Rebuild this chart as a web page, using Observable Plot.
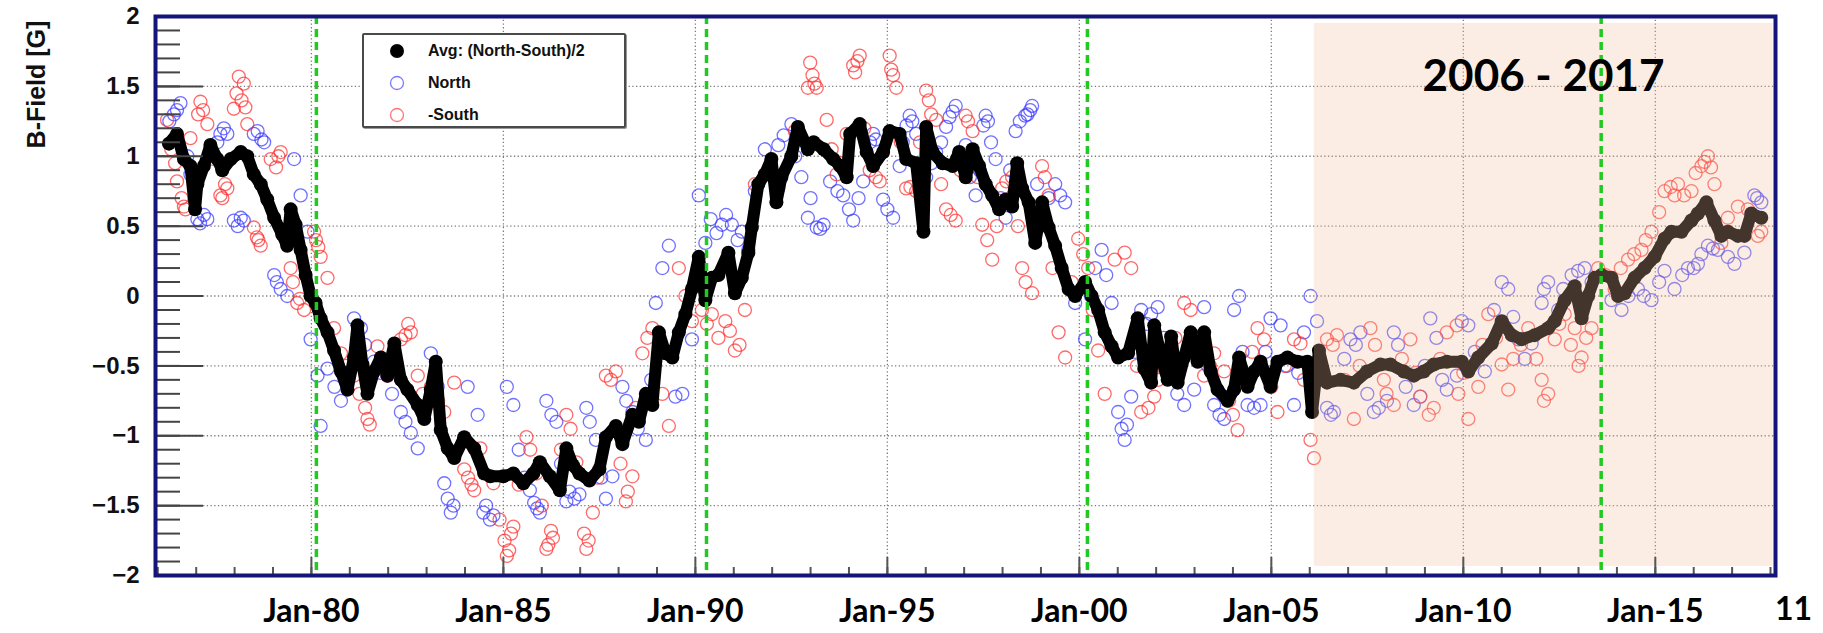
<!DOCTYPE html>
<html>
<head>
<meta charset="utf-8">
<script src="https://cdn.jsdelivr.net/npm/d3@7"></script>
<script src="https://cdn.jsdelivr.net/npm/@observablehq/plot@0.6"></script>
<style>
  html, body { margin: 0; padding: 0; background: #fff; }
  #wrap { position: relative; width: 1823px; height: 633px; overflow: hidden; }
  #legend { position: absolute; left: 362px; top: 33px; width: 260px; height: 91px;
    border: 2px solid #4a4a4a; border-radius: 2px; background: #fff;
    box-shadow: 1px 1px 0 #999; font: bold 16px "Liberation Sans", Arial, sans-serif; color: #111; }
  #legend .row { position: absolute; left: 0; height: 20px; width: 100%; }
  #legend .row span { position: absolute; left: 64px; top: 1px; }
  #legend .row svg { position: absolute; left: 24px; top: 1px; }
</style>
</head>
<body>
<div id="wrap">
  <div id="chart"></div>
  <div id="legend"></div>
</div>
<script>
// ---------------- data (decimal year, field in Gauss) ----------------
const avgSeries = [
  [1976.29,1.09],[1976.50,1.16],[1976.68,0.98],[1976.85,0.93],[1976.97,0.62],[1977.03,0.80],[1977.20,0.93],
  [1977.37,1.08],[1977.55,0.98],[1977.68,0.90],[1977.90,0.98],[1978.16,1.03],[1978.33,1.00],[1978.50,0.87],
  [1978.68,0.80],[1978.85,0.69],[1979.03,0.56],[1979.24,0.44],[1979.37,0.36],[1979.46,0.62],[1979.59,0.51],
  [1979.72,0.33],[1979.85,0.15],[1979.98,0.00],[1980.11,-0.05],[1980.24,-0.16],[1980.42,-0.26],[1980.59,-0.39],
  [1980.77,-0.54],[1980.94,-0.67],[1981.11,-0.44],[1981.20,-0.21],[1981.33,-0.49],[1981.46,-0.70],[1981.63,-0.54],
  [1981.81,-0.44],[1981.98,-0.57],[1982.16,-0.34],[1982.33,-0.60],[1982.50,-0.67],[1982.77,-0.78],[1982.94,-0.88],
  [1983.11,-0.67],[1983.24,-0.47],[1983.37,-0.96],[1983.55,-1.09],[1983.72,-1.16],[1983.98,-1.01],[1984.24,-1.09],
  [1984.50,-1.27],[1984.66,-1.29],[1985.00,-1.29],[1985.26,-1.27],[1985.52,-1.34],[1985.78,-1.27],[1985.95,-1.19],
  [1986.21,-1.29],[1986.47,-1.39],[1986.64,-1.09],[1986.81,-1.21],[1986.98,-1.27],[1987.24,-1.32],[1987.50,-1.24],
  [1987.67,-1.01],[1987.93,-0.93],[1988.10,-1.06],[1988.36,-0.85],[1988.53,-0.90],[1988.71,-0.70],[1988.88,-0.78],
  [1989.05,-0.26],[1989.22,-0.41],[1989.40,-0.44],[1989.57,-0.26],[1989.74,-0.13],[1989.91,0.05],[1990.09,0.28],
  [1990.26,-0.03],[1990.43,0.13],[1990.60,0.15],[1990.86,0.31],[1991.03,0.02],[1991.21,0.13],[1991.38,0.31],
  [1991.47,0.49],[1991.64,0.80],[1991.81,0.87],[1991.98,0.98],[1992.11,0.67],[1992.24,0.85],[1992.50,1.00],
  [1992.67,1.21],[1992.93,1.05],[1993.08,1.10],[1993.34,1.05],[1993.59,0.98],[1993.77,0.93],[1993.94,0.85],
  [1994.03,1.16],[1994.28,1.23],[1994.46,1.03],[1994.63,0.93],[1994.89,1.03],[1995.06,1.18],[1995.32,1.16],
  [1995.49,0.98],[1995.75,0.95],[1995.94,0.46],[1996.01,1.21],[1996.18,1.03],[1996.44,0.95],[1996.70,0.93],
  [1996.87,1.03],[1997.04,0.85],[1997.22,1.05],[1997.39,0.93],[1997.56,0.80],[1997.73,0.72],[1997.91,0.62],
  [1998.08,0.69],[1998.25,0.64],[1998.38,0.95],[1998.51,0.77],[1998.68,0.67],[1998.85,0.38],[1999.03,0.67],
  [1999.20,0.49],[1999.37,0.36],[1999.54,0.20],[1999.72,0.05],[1999.89,0.00],[2000.15,0.10],[2000.32,0.00],
  [2000.49,-0.10],[2000.66,-0.26],[2000.84,-0.36],[2001.01,-0.44],[2001.27,-0.41],[2001.52,-0.16],[2001.69,-0.52],
  [2001.87,-0.62],[2001.95,-0.21],[2002.13,-0.44],[2002.30,-0.60],[2002.39,-0.29],[2002.56,-0.62],[2002.73,-0.44],
  [2002.90,-0.26],[2003.08,-0.47],[2003.25,-0.26],[2003.42,-0.54],[2003.60,-0.67],[2003.86,-0.75],[2004.03,-0.67],
  [2004.16,-0.44],[2004.38,-0.65],[2004.55,-0.54],[2004.72,-0.47],[2004.98,-0.65],[2005.16,-0.47],[2005.42,-0.44],
  [2005.68,-0.47],[2005.94,-0.47],[2006.06,-0.83],[2006.24,-0.39],[2006.45,-0.62],[2006.80,-0.60],[2007.15,-0.62],
  [2007.49,-0.54],[2007.84,-0.49],[2008.10,-0.49],[2008.45,-0.54],[2008.71,-0.57],[2008.97,-0.54],[2009.23,-0.49],
  [2009.57,-0.47],[2009.96,-0.47],[2010.13,-0.54],[2010.39,-0.44],[2010.74,-0.34],[2011.00,-0.18],[2011.26,-0.28],
  [2011.52,-0.31],[2011.86,-0.28],[2012.21,-0.23],[2012.38,-0.18],[2012.64,-0.03],[2012.90,0.07],[2013.08,-0.16],
  [2013.25,0.00],[2013.42,0.13],[2013.60,0.15],[2013.86,0.13],[2014.03,0.00],[2014.20,0.02],[2014.46,0.13],
  [2014.72,0.20],[2014.98,0.28],[2015.24,0.41],[2015.42,0.46],[2015.68,0.46],[2015.94,0.54],[2016.11,0.59],
  [2016.33,0.67],[2016.54,0.54],[2016.72,0.43],[2016.89,0.46],[2017.15,0.43],[2017.32,0.43],[2017.50,0.59],
  [2017.76,0.56]
];
const northSeries = [
  [1976.30,1.25],[1976.42,1.30],[1976.50,1.33],[1976.59,1.38],[1976.77,1.00],[1976.85,0.87],[1977.03,0.55],
  [1977.10,0.52],[1977.20,0.58],[1977.29,0.55],[1977.55,1.10],[1977.63,1.16],[1977.72,1.20],[1977.81,1.16],
  [1977.98,0.54],[1978.08,0.50],[1978.16,0.56],[1978.24,0.54],[1978.50,1.16],[1978.60,1.18],[1978.70,1.12],
  [1978.77,1.10],[1979.03,0.15],[1979.10,0.10],[1979.20,0.05],[1979.37,0.00],[1979.55,0.98],[1979.72,0.72],
  [1979.90,0.46],[1979.98,-0.31],[1980.16,-0.57],[1980.24,-0.93],[1980.42,-0.52],[1980.60,-0.65],[1980.77,-0.75],
  [1980.90,-0.55],[1981.11,-0.16],[1981.29,-0.23],[1981.40,-0.35],[1981.63,-0.47],[1981.80,-0.55],[1981.98,-0.57],
  [1982.10,-0.70],[1982.33,-0.83],[1982.45,-0.90],[1982.59,-0.98],[1982.77,-1.09],[1983.11,-0.41],[1983.29,-0.65],
  [1983.46,-1.34],[1983.55,-1.45],[1983.63,-1.55],[1983.70,-1.50],[1984.07,-0.65],[1984.33,-0.85],[1984.48,-1.55],
  [1984.55,-1.50],[1984.65,-1.60],[1984.74,-1.57],[1985.09,-0.65],[1985.26,-0.78],[1985.40,-1.10],[1985.55,-1.30],
  [1985.69,-1.39],[1985.80,-1.48],[1985.88,-1.52],[1985.95,-1.55],[1986.12,-0.75],[1986.25,-0.85],[1986.38,-0.90],
  [1986.50,-1.20],[1986.64,-1.47],[1986.72,-1.40],[1986.85,-1.45],[1986.98,-1.42],[1987.16,-0.80],[1987.25,-0.90],
  [1987.41,-1.03],[1987.55,-1.30],[1987.67,-1.45],[1987.84,-1.29],[1988.10,-0.65],[1988.20,-0.75],[1988.36,-0.83],
  [1988.50,-0.95],[1988.71,-1.03],[1988.85,-0.60],[1988.97,-0.05],[1989.14,0.20],[1989.31,0.36],[1989.48,-0.72],
  [1989.66,-0.70],[1989.91,-0.31],[1990.09,0.72],[1990.26,0.38],[1990.40,0.55],[1990.55,0.45],[1990.69,0.51],
  [1990.80,0.58],[1990.95,0.51],[1991.10,0.40],[1991.21,0.46],[1991.38,0.33],[1991.55,0.75],[1991.81,1.05],
  [1992.16,1.08],[1992.30,1.15],[1992.50,1.23],[1992.60,1.00],[1992.76,0.85],[1992.93,0.56],[1993.00,0.70],
  [1993.16,0.49],[1993.25,0.48],[1993.34,0.51],[1993.51,0.82],[1993.70,0.75],[1993.85,0.72],[1994.00,0.62],
  [1994.11,0.54],[1994.25,0.70],[1994.37,0.82],[1994.55,1.10],[1994.63,1.16],[1994.70,1.12],[1994.89,0.69],
  [1995.00,0.62],[1995.15,0.56],[1995.32,0.93],[1995.40,1.10],[1995.50,1.22],[1995.58,1.29],[1995.65,1.25],
  [1995.75,1.16],[1996.01,0.85],[1996.15,0.95],[1996.27,1.03],[1996.40,1.10],[1996.53,1.21],[1996.62,1.28],
  [1996.70,1.32],[1996.78,1.36],[1997.04,1.08],[1997.15,0.85],[1997.30,0.72],[1997.40,0.90],[1997.50,1.22],
  [1997.56,1.29],[1997.62,1.25],[1997.70,1.10],[1997.82,0.98],[1997.95,0.70],[1998.08,0.56],[1998.20,0.90],
  [1998.34,1.18],[1998.45,1.25],[1998.59,1.29],[1998.65,1.30],[1998.72,1.33],[1998.77,1.36],[1998.90,0.80],
  [1999.03,0.56],[1999.20,0.70],[1999.37,0.80],[1999.50,0.72],[1999.63,0.67],[1999.89,-0.05],[2000.15,-0.31],
  [2000.30,0.00],[2000.41,0.20],[2000.58,0.33],[2000.70,0.15],[2000.84,-0.05],[2001.01,-0.83],[2001.10,-0.95],
  [2001.18,-1.03],[2001.24,-0.92],[2001.35,-0.72],[2001.45,-0.40],[2001.61,-0.10],[2001.75,-0.20],[2001.87,-0.13],
  [2002.04,-0.08],[2002.20,-0.30],[2002.39,-0.57],[2002.55,-0.70],[2002.73,-0.78],[2002.99,-0.67],[2003.10,-0.30],
  [2003.25,-0.08],[2003.35,-0.50],[2003.51,-0.78],[2003.65,-0.85],[2003.77,-0.88],[2004.03,-0.10],[2004.16,0.00],
  [2004.25,-0.40],[2004.38,-0.78],[2004.55,-0.80],[2004.72,-0.78],[2004.85,-0.40],[2004.98,-0.16],[2005.24,-0.21],
  [2005.40,-0.50],[2005.59,-0.78],[2005.70,-0.55],[2005.85,-0.26],[2006.02,0.00],[2006.19,-0.18],[2006.30,-0.55],
  [2006.45,-0.80],[2006.55,-0.85],[2006.63,-0.83],[2006.90,-0.45],[2007.06,-0.31],[2007.20,-0.35],[2007.32,-0.26],
  [2007.50,-0.70],[2007.67,-0.83],[2007.80,-0.80],[2008.01,-0.75],[2008.19,-0.26],[2008.30,-0.35],[2008.50,-0.65],
  [2008.71,-0.78],[2008.88,-0.72],[2009.00,-0.50],[2009.14,-0.16],[2009.30,-0.30],[2009.45,-0.60],[2009.57,-0.67],
  [2009.83,-0.57],[2009.96,-0.18],[2010.13,-0.21],[2010.30,-0.40],[2010.56,-0.54],[2010.80,-0.10],[2011.00,0.10],
  [2011.17,0.05],[2011.30,-0.15],[2011.43,-0.31],[2011.60,-0.45],[2011.78,-0.34],[2012.04,-0.05],[2012.10,0.05],
  [2012.21,0.10],[2012.47,-0.10],[2012.60,0.05],[2012.82,0.15],[2012.99,0.18],[2013.16,0.20],[2013.34,0.10],
  [2013.86,-0.03],[2014.12,-0.10],[2014.30,0.00],[2014.55,0.05],[2014.70,0.00],[2014.90,-0.03],[2015.10,0.10],
  [2015.24,0.18],[2015.50,0.05],[2015.70,0.15],[2015.85,0.20],[2016.00,0.20],[2016.11,0.23],[2016.20,0.30],
  [2016.37,0.36],[2016.50,0.34],[2016.63,0.33],[2016.89,0.28],[2017.06,0.23],[2017.32,0.31],[2017.58,0.72],
  [2017.65,0.70],[2017.76,0.67]
];
const southSeries = [
  [1976.24,1.26],[1976.35,1.05],[1976.45,0.95],[1976.50,0.82],[1976.62,0.70],[1976.68,0.64],[1976.72,0.62],
  [1976.85,1.13],[1977.05,1.30],[1977.11,1.39],[1977.18,1.33],[1977.29,1.23],[1977.46,0.98],[1977.63,0.72],
  [1977.68,0.70],[1977.75,0.80],[1977.81,0.77],[1977.98,1.34],[1978.05,1.45],[1978.11,1.57],[1978.18,1.40],
  [1978.24,1.52],[1978.28,1.35],[1978.33,1.23],[1978.50,0.49],[1978.58,0.42],[1978.62,0.40],[1978.68,0.36],
  [1978.94,0.98],[1979.08,0.92],[1979.14,1.00],[1979.20,1.03],[1979.46,0.20],[1979.52,0.10],[1979.63,-0.05],
  [1979.70,-0.02],[1979.81,-0.10],[1980.07,0.46],[1980.12,0.40],[1980.18,0.35],[1980.24,0.28],[1980.42,0.13],
  [1980.59,-0.23],[1980.77,-0.41],[1980.90,-0.50],[1981.11,-0.57],[1981.25,-0.70],[1981.40,-0.80],[1981.46,-0.88],
  [1981.52,-0.92],[1981.72,-0.36],[1981.85,-0.50],[1981.98,-0.57],[1982.15,-0.40],[1982.33,-0.31],[1982.45,-0.28],
  [1982.52,-0.20],[1982.59,-0.26],[1982.77,-0.57],[1982.90,-0.70],[1983.11,-0.65],[1983.30,-0.75],[1983.46,-0.83],
  [1983.72,-0.62],[1983.98,-1.24],[1984.08,-1.30],[1984.17,-1.35],[1984.24,-1.39],[1984.40,-1.09],[1984.74,-1.34],
  [1984.90,-1.60],[1985.03,-1.75],[1985.09,-1.86],[1985.15,-1.82],[1985.20,-1.70],[1985.26,-1.65],[1985.40,-1.35],
  [1985.60,-1.01],[1985.70,-1.10],[1985.86,-1.27],[1986.00,-1.50],[1986.12,-1.81],[1986.17,-1.78],[1986.24,-1.68],
  [1986.29,-1.73],[1986.50,-1.10],[1986.64,-0.85],[1986.75,-0.95],[1986.90,-1.19],[1987.10,-1.70],[1987.16,-1.81],
  [1987.22,-1.75],[1987.33,-1.55],[1987.45,-1.30],[1987.67,-0.57],[1987.80,-0.60],[1987.93,-0.54],[1988.05,-1.20],
  [1988.19,-1.47],[1988.24,-1.40],[1988.36,-1.29],[1988.45,-0.80],[1988.62,-0.41],[1988.75,-0.30],[1988.88,-0.23],
  [1989.14,-0.70],[1989.31,-0.93],[1989.57,0.20],[1989.74,0.00],[1989.91,-0.18],[1990.17,-0.10],[1990.30,-0.20],
  [1990.43,-0.13],[1990.60,-0.30],[1990.78,-0.18],[1990.90,-0.25],[1991.03,-0.39],[1991.15,-0.35],[1991.29,-0.10],
  [1991.55,0.80],[1991.81,0.87],[1992.16,0.77],[1992.59,1.18],[1992.93,1.49],[1992.99,1.67],[1993.05,1.58],
  [1993.10,1.52],[1993.16,1.49],[1993.42,1.26],[1993.55,1.05],[1993.68,0.87],[1993.80,0.95],[1993.94,1.16],
  [1994.11,1.65],[1994.16,1.60],[1994.22,1.68],[1994.28,1.72],[1994.40,1.20],[1994.54,0.90],[1994.70,0.85],
  [1994.80,0.82],[1995.06,1.72],[1995.10,1.62],[1995.15,1.58],[1995.23,1.49],[1995.35,1.10],[1995.49,0.77],
  [1995.60,0.78],[1995.75,0.75],[1995.85,1.10],[1996.01,1.47],[1996.08,1.40],[1996.14,1.30],[1996.27,1.26],
  [1996.40,0.80],[1996.53,0.62],[1996.65,0.58],[1996.78,0.54],[1996.90,0.90],[1997.04,1.29],[1997.10,1.25],
  [1997.22,1.18],[1997.35,0.85],[1997.47,0.51],[1997.60,0.40],[1997.73,0.26],[1997.85,0.50],[1997.99,0.77],
  [1998.10,0.82],[1998.25,0.85],[1998.40,0.50],[1998.51,0.20],[1998.60,0.10],[1998.77,0.02],[1998.90,0.50],
  [1999.03,0.93],[1999.10,0.85],[1999.20,0.72],[1999.30,0.20],[1999.46,-0.26],[1999.63,-0.44],[1999.80,0.10],
  [1999.97,0.41],[2000.10,0.30],[2000.23,0.20],[2000.35,-0.10],[2000.49,-0.39],[2000.66,-0.70],[2000.92,0.26],
  [2001.18,0.31],[2001.35,0.20],[2001.50,-0.50],[2001.61,-0.83],[2001.80,-0.80],[2001.95,-0.72],[2002.05,-0.60],
  [2002.21,-0.52],[2002.50,-0.30],[2002.73,-0.05],[2002.90,-0.10],[2003.05,-0.30],[2003.25,-0.57],[2003.40,-0.50],
  [2003.51,-0.41],[2003.77,-0.54],[2003.90,-0.75],[2004.00,-0.85],[2004.12,-0.96],[2004.38,-0.57],[2004.50,-0.40],
  [2004.64,-0.23],[2004.81,-0.31],[2005.00,-0.65],[2005.16,-0.83],[2005.35,-0.50],[2005.59,-0.31],[2005.76,-0.34],
  [2005.85,-0.60],[2006.02,-1.03],[2006.11,-1.16],[2006.30,-0.60],[2006.45,-0.31],[2006.60,-0.35],[2006.71,-0.28],
  [2006.90,-0.60],[2007.15,-0.88],[2007.30,-0.50],[2007.58,-0.23],[2007.70,-0.35],[2007.93,-0.60],[2008.00,-0.70],
  [2008.19,-0.78],[2008.40,-0.45],[2008.62,-0.31],[2008.75,-0.55],[2008.88,-0.72],[2009.10,-0.85],[2009.23,-0.80],
  [2009.40,-0.45],[2009.57,-0.26],[2009.83,-0.21],[2009.87,-0.70],[2010.00,-0.55],[2010.13,-0.88],[2010.39,-0.65],
  [2010.50,-0.35],[2010.65,-0.13],[2010.85,-0.30],[2011.00,-0.49],[2011.17,-0.67],[2011.30,-0.45],[2011.50,-0.35],
  [2011.69,-0.23],[2011.90,-0.45],[2012.04,-0.60],[2012.10,-0.75],[2012.21,-0.70],[2012.38,-0.31],[2012.50,-0.20],
  [2012.64,-0.13],[2012.80,-0.35],[2012.90,-0.23],[2013.00,-0.50],[2013.08,-0.44],[2013.20,-0.30],[2013.34,-0.23],
  [2013.51,0.20],[2013.70,0.15],[2013.94,0.05],[2014.10,0.20],[2014.29,0.26],[2014.45,0.30],[2014.64,0.33],
  [2014.75,0.40],[2014.90,0.46],[2015.10,0.60],[2015.24,0.75],[2015.40,0.78],[2015.50,0.72],[2015.59,0.80],
  [2015.75,0.72],[2015.94,0.75],[2016.05,0.88],[2016.20,0.93],[2016.28,0.96],[2016.37,1.00],[2016.45,0.92],
  [2016.54,0.80],[2016.72,0.38],[2016.89,0.56],[2017.15,0.64],[2017.41,0.62],[2017.67,0.43],[2017.76,0.46]
];
// polarity reversal markers (green dashed), shaded period, axis ticks and labels
const reversalYears = [1980.13, 1990.29, 2000.21, 2013.59];
const shadeBox = [{x1: 2006.12, x2: 2018.07, y1: -1.935, y2: 1.95}];
const shadeLabel = [{x: 2012.09, y: 1.465, text: "2006 - 2017"}];
const xDomain = [1975.94, 2018.13];
const yDomain = [-2, 2];
const xLabelYears = [1980, 1985, 1990, 1995, 2000, 2005, 2010, 2015];
const xTickLabels = ["Jan-80", "Jan-85", "Jan-90", "Jan-95", "Jan-00", "Jan-05", "Jan-10", "Jan-15"];
const xMinorYears = d3.range(1976, 2019);
const yMajor = [-2, -1.5, -1, -0.5, 0, 0.5, 1, 1.5, 2];
const yMinor = d3.range(-20, 21).map(d => d / 10);
const yGrid = [-1.5, -1, -0.5, 0, 0.5, 1, 1.5];
const cornerLabel = [{x: 2018.6, text: "11"}];
const yTitle = "B-Field [G]";
const legendItems = [
  {label: "Avg: (North-South)/2", kind: "avg"},
  {label: "North", kind: "north"},
  {label: "-South", kind: "south"}
];

// ---------------- layout ----------------
const W = 1823, H = 633;
const mL = 155, mR = 48, mT = 16, mB = 58;
const plotW = W - mL - mR, plotH = H - mT - mB;
const BLUE = "#3434ff", RED = "#ff2a2a", GREEN = "#22c922", NAVY = "#14147a";
const px = d => d[0], py = d => d[1];
const fmtY = d => (d < 0 ? "\u2212" : "") + String(Math.abs(d));

const chart = Plot.plot({
  width: W, height: H,
  marginLeft: mL, marginRight: mR, marginTop: mT, marginBottom: mB,
  style: {fontFamily: "'Liberation Sans', Arial, sans-serif", background: "#fff", overflow: "visible"},
  x: {domain: xDomain},
  y: {domain: yDomain},
  marks: [
    // grid
    Plot.ruleY(yGrid, {stroke: "#7d7d7d", strokeWidth: 1.3, strokeDasharray: "1.3,2.4"}),
    Plot.ruleX(xLabelYears, {stroke: "#7d7d7d", strokeWidth: 1.3, strokeDasharray: "1.3,2.4"}),
    // data
    Plot.dot(northSeries, {x: px, y: py, r: 6.5, fill: "none", stroke: BLUE, strokeOpacity: 0.7, strokeWidth: 1.3}),
    Plot.dot(southSeries, {x: px, y: py, r: 6.5, fill: "none", stroke: RED, strokeOpacity: 0.7, strokeWidth: 1.3}),
    Plot.line(avgSeries, {x: px, y: py, stroke: "#000", strokeWidth: 12, strokeLinejoin: "round", strokeLinecap: "round"}),
    Plot.dot(avgSeries, {x: px, y: py, r: 7, fill: "#000", stroke: "none"}),
    // shaded 2006-2017 window
    Plot.rect(shadeBox, {x1: "x1", x2: "x2", y1: "y1", y2: "y2", fill: "rgb(239,189,154)", fillOpacity: 0.28}),
    // reversal lines
    Plot.ruleX(reversalYears, {stroke: GREEN, strokeWidth: 3.5, strokeDasharray: "8,5"}),
    // axis ticks (ROOT style, drawn inward)
    Plot.ruleY(yMinor, {stroke: "#444", strokeWidth: 2, insetRight: plotW - 25}),
    Plot.ruleY(yMajor, {stroke: "#444", strokeWidth: 2, insetRight: plotW - 48}),
    Plot.ruleX(xMinorYears, {stroke: "#555", strokeWidth: 2, insetTop: plotH - 8}),
    Plot.ruleX(xLabelYears, {stroke: "#555", strokeWidth: 2, insetTop: plotH - 18}),
    Plot.frame({stroke: NAVY, strokeWidth: 4}),
    // axes labels
    Plot.axisY(yMajor, {tickSize: 0, tickPadding: 16, fontSize: 24, fontWeight: "bold", fill: "#111", tickFormat: fmtY}),
    Plot.axisX(xLabelYears, {tickSize: 0, tickPadding: 24, fontSize: 32, fontWeight: "bold", fill: "#000",
      fontFamily: "Lato, 'Open Sans', sans-serif", tickFormat: d => xTickLabels[xLabelYears.indexOf(d)]}),
    Plot.text(cornerLabel, {x: "x", text: "text", frameAnchor: "bottom", dy: 22, lineAnchor: "top",
      fontSize: 32, fontWeight: "bold", fontFamily: "Lato, 'Open Sans', sans-serif", fill: "#000"}),
    Plot.text(shadeLabel, {x: "x", y: "y", text: "text", lineAnchor: "bottom", fontSize: 44,
      fontWeight: "bold", fontFamily: "Lato, 'Open Sans', sans-serif", fill: "#000"}),
    Plot.text([yTitle], {text: d => d, frameAnchor: "top-left", dx: -128, dy: 68, rotate: -90,
      textAnchor: "middle", fontSize: 25, fontWeight: "bold", fill: "#111"})
  ]
});
document.getElementById("chart").appendChild(chart);

// ---------------- legend ----------------
const legend = document.getElementById("legend");
legendItems.forEach((item, i) => {
  const row = document.createElement("div");
  row.className = "row";
  row.style.top = (6 + i * 32) + "px";
  const marker = item.kind === "avg"
    ? `<circle cx="9" cy="9" r="7" fill="#000"/>`
    : `<circle cx="9" cy="9" r="6.5" fill="none" stroke="${item.kind === "north" ? BLUE : RED}" stroke-opacity="0.65" stroke-width="1.3"/>`;
  row.innerHTML = `<svg width="18" height="18">${marker}</svg><span>${item.label}</span>`;
  legend.appendChild(row);
});
</script>
</body>
</html>
